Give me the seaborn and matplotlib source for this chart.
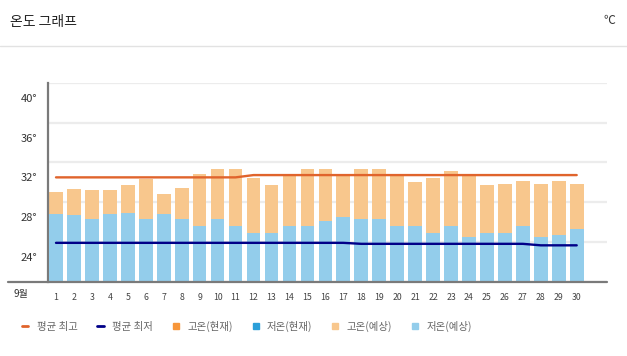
import numpy as np
import pandas as pd
import matplotlib
matplotlib.use("Agg")
import matplotlib.pyplot as plt
from matplotlib.lines import Line2D
import seaborn as sns

# ---------------- data ----------------
days = list(range(1, 31))
high = [29.0, 29.3, 29.2, 29.2, 29.7, 30.3, 28.8, 29.4, 30.8, 31.3,
        31.3, 30.4, 29.7, 30.7, 31.3, 31.3, 30.7, 31.3, 31.3, 30.7,
        30.0, 30.4, 31.1, 30.6, 29.7, 29.8, 30.1, 29.8, 30.1, 29.8]
low = [26.8, 26.7, 26.3, 26.8, 26.9, 26.3, 26.8, 26.3, 25.6, 26.3,
       25.6, 24.9, 24.9, 25.6, 25.6, 26.1, 26.5, 26.3, 26.3, 25.6,
       25.6, 24.9, 25.6, 24.5, 24.9, 24.9, 25.6, 24.5, 24.7, 25.3]
avg_high = [30.5] * 11 + [30.73] * 19
avg_low = [23.93] * 17 + [23.83] * 10 + [23.68] * 3
y_ticks = [20, 24, 28, 32, 36, 40]
y_labels = ["", "24°", "28°", "32°", "36°", "40°"]
legend_labels = ["평균 최고", "평균 최저", "고온(현재)", "저온(현재)", "고온(예상)", "저온(예상)"]
title = "온도 그래프"
unit = "℃"
month_label = "9월"

df = pd.DataFrame({"day": days, "high": high, "low": low,
                   "avg_high": avg_high, "avg_low": avg_low})

# ---------------- style ----------------
sns.set_style("white")
plt.rcParams["font.family"] = ["Noto Sans CJK KR", "DejaVu Sans"]

C_HIGH_EST = "#f8c78d"
C_LOW_EST = "#93cdeb"
C_HIGH_NOW = "#f7963a"
C_LOW_NOW = "#2b9fd9"
C_AVG_HIGH = "#e0642c"
C_AVG_LOW = "#000088"

W, H = 627, 356
fig = plt.figure(figsize=(W / 100, H / 100), dpi=100)
left_px, right_px, top_px, bot_px = 48.3, 606.7, 82.7, 282.0
ax = fig.add_axes([left_px / W, 1 - bot_px / H,
                   (right_px - left_px) / W, (bot_px - top_px) / H])

sns.barplot(data=df, x="day", y="high", native_scale=True, color=C_HIGH_EST,
            width=0.76, saturation=1, linewidth=0, edgecolor="none", ax=ax, zorder=2)
sns.barplot(data=df, x="day", y="low", native_scale=True, color=C_LOW_EST,
            width=0.76, saturation=1, linewidth=0, edgecolor="none", ax=ax, zorder=3)
sns.lineplot(data=df, x="day", y="avg_high", color=C_AVG_HIGH, lw=1.7, ax=ax, zorder=4)
sns.lineplot(data=df, x="day", y="avg_low", color=C_AVG_LOW, lw=1.7, ax=ax, zorder=4)

ax.set_xlim(0.571, 31.67)
ax.set_ylim(20, 40.0)
ax.set_xlabel("")
ax.set_ylabel("")

# x ticks
ax.set_xticks(days)
ax.set_xticklabels([str(d) for d in days], fontsize=6.3, color="#444444")
ax.tick_params(axis="x", length=0, pad=8)

# y: gridlines on major ticks, labels sit just below each gridline
ax.set_yticks(y_ticks)
ax.set_yticklabels([""] * len(y_ticks))
ax.set_yticks([v - 1.5 for v in y_ticks[1:]], minor=True)
ax.set_yticklabels(y_labels[1:], minor=True, fontsize=8, color="#333333")
ax.tick_params(axis="y", which="both", length=0, pad=8)
ax.grid(axis="y", which="major", color="#ececec", lw=1.6, zorder=0)
ax.set_axisbelow(True)

for s in ["top", "right", "bottom"]:
    ax.spines[s].set_visible(False)
ax.spines["left"].set_color("#7a7a7a")
ax.spines["left"].set_linewidth(1.6)

# bottom axis line extending to the left
fig.add_artist(Line2D([8.3 / W, right_px / W], [1 - bot_px / H] * 2,
                      color="#7a7a7a", lw=1.6))
fig.text(21 / W, 1 - 294.5 / H, month_label, fontsize=7.2, color="#333333",
         ha="center", va="center")

# header
fig.text(10 / W, 1 - 22 / H, title, fontsize=10, color="#222222", ha="left", va="center")
fig.text(609 / W, 1 - 21 / H, unit, fontsize=8.5, color="#333333", ha="center", va="center")
fig.add_artist(Line2D([0, 1], [1 - 46 / H] * 2, color="#e2e2e2", lw=1.0))

# legend
handles = [
    Line2D([], [], color=C_AVG_HIGH, lw=2),
    Line2D([], [], color=C_AVG_LOW, lw=2),
    Line2D([], [], marker="s", ls="", color=C_HIGH_NOW, markersize=4.5),
    Line2D([], [], marker="s", ls="", color=C_LOW_NOW, markersize=4.5),
    Line2D([], [], marker="s", ls="", color=C_HIGH_EST, markersize=4.5),
    Line2D([], [], marker="s", ls="", color=C_LOW_EST, markersize=4.5),
]
leg = fig.legend(handles, legend_labels, loc="center left",
                 bbox_to_anchor=(22 / W, 1 - 326.5 / H), ncol=6, frameon=False,
                 fontsize=7.5, handlelength=0.6, handletextpad=0.8,
                 columnspacing=1.9, borderpad=0, borderaxespad=0)
for t in leg.get_texts():
    t.set_color("#666666")

fig.savefig("out.png", dpi=100)
